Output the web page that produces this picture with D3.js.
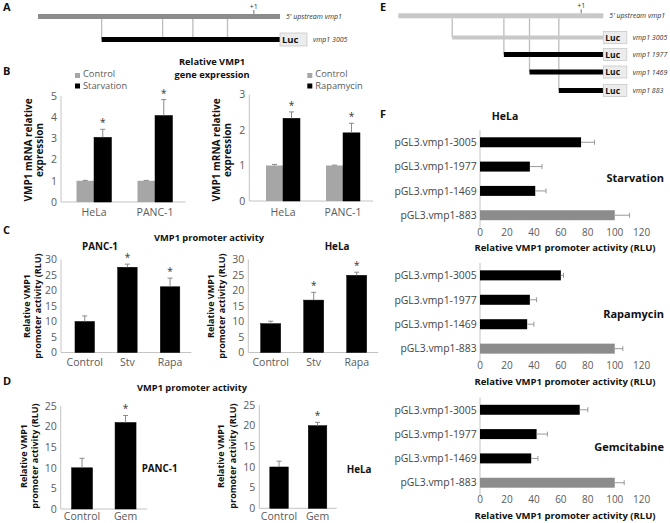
<!DOCTYPE html>
<html><head><meta charset="utf-8">
<script src="https://cdn.jsdelivr.net/npm/d3@7/dist/d3.min.js"></script>
<style>
body{margin:0;background:#fff}
svg{display:block}
text{font-family:"Open Sans",Lato,sans-serif}
</style>
</head><body>
<svg id="c" width="670" height="523"></svg>
<script>
// ---------- DATA ----------
// promoter diagram (schematic positions along the 5' upstream region, 0-100)
const constructNames = ["vmp1 3005", "vmp1 1977", "vmp1 1469", "vmp1 883"];
const constructStarts = [26.3, 51.5, 64.0, 78.3];
const tssPosition = 89.2;

// B: relative VMP1 mRNA expression
const bGroups = ["HeLa", "PANC-1"];
const bStarvControl = [1.0, 1.0];
const bStarvControlErr = [0.02, 0.02];
const bStarvation = [3.05, 4.08];
const bStarvationErr = [0.38, 0.75];
const bRapaControl = [1.0, 1.0];
const bRapaControlErr = [0.03, 0.01];
const bRapamycin = [2.33, 1.92];
const bRapamycinErr = [0.18, 0.27];
const bLeftTicks = [0, 1, 2, 3, 4, 5];
const bRightTicks = [0, 1, 2, 3];

// C: VMP1 promoter activity (RLU)
const cCategories = ["Control", "Stv", "Rapa"];
const cPanc = [10.0, 27.5, 21.2];
const cPancErr = [1.8, 1.0, 2.8];
const cPancSig = [false, true, true];
const cHela = [9.3, 16.9, 24.9];
const cHelaErr = [0.8, 2.5, 1.0];
const cHelaSig = [false, true, true];
const cTicks = [0, 5, 10, 15, 20, 25, 30];

// D: VMP1 promoter activity, gemcitabine
const dCategories = ["Control", "Gem"];
const dPanc = [10.0, 21.0];
const dPancErr = [2.3, 1.7];
const dHela = [10.0, 20.0];
const dHelaErr = [1.4, 0.8];
const dSig = [false, true];
const dTicks = [0, 5, 10, 15, 20, 25];

// F: deletion constructs, HeLa
const fConstructs = ["pGL3.vmp1-3005", "pGL3.vmp1-1977", "pGL3.vmp1-1469", "pGL3.vmp1-883"];
const fStarvation = [75, 37, 41, 100];
const fStarvationErr = [10, 9, 8, 11];
const fRapamycin = [60, 37, 35, 100];
const fRapamycinErr = [2, 5, 5, 6];
const fGemcitabine = [74, 42, 38, 100];
const fGemcitabineErr = [6, 8, 5, 7];
const fTicks = [0, 20, 40, 60, 80, 100, 120];

// ---------- STYLE ----------
const GRAY_B = "#a6a6a6", GRAY_F = "#8c8c8c", AXIS = "#c4c4c4", TICK = "#5a5a5a", ERR = "#8a8a8a";
const svg = d3.select("#c");

function txt(x, y, s, o = {}) {
  const t = svg.append("text").attr("x", x).attr("y", y).text(s)
    .attr("font-size", o.size || 10)
    .attr("fill", o.fill || "#111")
    .attr("font-weight", o.bold ? "bold" : "normal")
    .attr("text-anchor", o.anchor || "start");
  if (o.italic) t.attr("font-style", "italic");
  return t;
}
function vtxt(cx, cy, s, size) {
  svg.append("text").attr("transform", `translate(${cx},${cy}) rotate(-90)`)
    .attr("dy", "0.35em").attr("text-anchor", "middle")
    .attr("font-size", size).attr("font-weight", "bold").attr("fill", "#111").text(s);
}

// ---------- PANEL LETTERS ----------
[["A", 3, 11], ["B", 3, 75], ["C", 3, 234], ["D", 3, 385], ["E", 380, 11], ["F", 380, 118]]
  .forEach(([l, x, y]) => txt(x, y, l, {size: 11, bold: true}));

// ---------- DIAGRAMS (A, E) ----------
function diagram(o) {
  const x = d3.scaleLinear().domain([0, 100]).range(o.xr);
  const g = svg.append("g");
  g.append("rect").attr("x", x(0)).attr("y", o.topY).attr("width", x(100) - x(0)).attr("height", 5).attr("fill", o.topColor);
  g.append("line").attr("x1", x(tssPosition)).attr("x2", x(tssPosition)).attr("y1", o.topY - 4).attr("y2", o.topY).attr("stroke", "#777");
  txt(x(tssPosition), o.topY - 5, "+1", {size: 7, anchor: "middle", fill: "#333"});
  txt(x(100) + 6, o.topY + 4.5, "5' upstream vmp1", {size: 7, italic: true, fill: "#333"});
  o.rows.forEach((ri, k) => {
    const cy = o.rowY[k];
    g.append("line").attr("x1", x(constructStarts[ri])).attr("x2", x(constructStarts[ri]))
      .attr("y1", o.topY + 5).attr("y2", cy).attr("stroke", "#bdbdbd").attr("stroke-width", 1.3);
  });
  o.extraLines.forEach(ri => {
    g.append("line").attr("x1", x(constructStarts[ri])).attr("x2", x(constructStarts[ri]))
      .attr("y1", o.topY + 5).attr("y2", o.rowY[0] - 2.5).attr("stroke", "#bdbdbd").attr("stroke-width", 1.3);
  });
  o.rows.forEach((ri, k) => {
    const cy = o.rowY[k];
    const col = o.rowColors[k];
    const th = col === "#000" ? 5 : 4;
    g.append("rect").attr("x", x(constructStarts[ri])).attr("y", cy - th / 2).attr("width", x(100) - x(constructStarts[ri])).attr("height", th).attr("fill", col);
    g.append("rect").attr("x", x(100)).attr("y", cy - o.lucH / 2).attr("width", o.lucW).attr("height", o.lucH)
      .attr("fill", "#ececec").attr("stroke", "#c9c9c9").attr("stroke-width", 0.8);
    txt(x(100) + 2, cy + o.lucSize * 0.36, "Luc", {size: o.lucSize, bold: true, fill: "#111"});
    txt(x(100) + o.lucW + 6, cy + 2.5, constructNames[ri], {size: 7, italic: true, fill: "#333"});
  });
}
diagram({xr: [38, 280], topY: 14, topColor: "#8c8c8c", rows: [0], rowY: [39.5], rowColors: ["#000"],
  extraLines: [1, 2, 3], lucW: 27, lucH: 13, lucSize: 9.5});
diagram({xr: [398.3, 603.3], topY: 13.3, topColor: "#c8c8c8", rows: [0, 1, 2, 3], rowY: [37.5, 54.5, 72, 90.5],
  rowColors: ["#c8c8c8", "#000", "#000", "#000"], extraLines: [], lucW: 23.5, lucH: 12, lucSize: 8.5});

// ---------- VERTICAL BAR CHARTS ----------
function vBars(o) {
  const g = svg.append("g");
  const x = d3.scaleBand().domain(o.cats).range(o.xr);
  const y = d3.scaleLinear().domain([0, o.ymax]).range(o.yr);
  const inner = d3.scaleBand().domain(o.series.map(s => s.name)).range([0, o.barW * o.series.length]);
  g.append("line").attr("x1", o.axisX).attr("x2", o.axisX).attr("y1", y(0)).attr("y2", y(o.ymax)).attr("stroke", AXIS);
  g.append("line").attr("x1", o.axisX).attr("x2", o.xr[1]).attr("y1", y(0)).attr("y2", y(0)).attr("stroke", AXIS);
  o.ticks.forEach(t => g.append("text").attr("x", o.axisX - 4).attr("y", y(t)).attr("dy", "0.36em")
    .attr("text-anchor", "end").attr("font-size", 10.5).attr("fill", TICK).text(t));
  o.series.forEach(s => s.vals.forEach((v, i) => {
    const bx = x(o.cats[i]) + x.bandwidth() / 2 - inner.range()[1] / 2 + inner(s.name);
    const cx = bx + o.barW / 2;
    g.append("rect").attr("x", bx).attr("y", y(v)).attr("width", o.barW).attr("height", y(0) - y(v))
      .attr("fill", s.color).attr("stroke", s.color === "#000" ? "#000" : "none").attr("stroke-width", 0.5);
    const e = s.errs[i];
    g.append("line").attr("x1", cx).attr("x2", cx).attr("y1", y(v)).attr("y2", y(v + e)).attr("stroke", ERR).attr("stroke-width", 1);
    g.append("line").attr("x1", cx - 2.5).attr("x2", cx + 2.5).attr("y1", y(v + e)).attr("y2", y(v + e)).attr("stroke", ERR).attr("stroke-width", 1);
    if (s.sig && s.sig[i]) g.append("text").attr("x", cx).attr("y", y(v + e) - 3).attr("text-anchor", "middle")
      .attr("font-size", 10).attr("fill", "#333").text("*");
  }));
  o.cats.forEach(c => g.append("text").attr("x", x(c) + x.bandwidth() / 2).attr("y", o.labelY)
    .attr("text-anchor", "middle").attr("font-size", 10.5).attr("fill", TICK).text(c));
}

// B left
vBars({cats: bGroups, xr: [63.5, 185.5], yr: [202, 96], ymax: 5, axisX: 61, ticks: bLeftTicks, barW: 17.5, labelY: 216,
  series: [{name: "Control", vals: bStarvControl, errs: bStarvControlErr, color: GRAY_B},
           {name: "Starvation", vals: bStarvation, errs: bStarvationErr, color: "#000", sig: [true, true]}]});
// B right
vBars({cats: bGroups, xr: [253, 373], yr: [201, 94.5], ymax: 3, axisX: 249.3, ticks: bRightTicks, barW: 17, labelY: 216,
  series: [{name: "Control", vals: bRapaControl, errs: bRapaControlErr, color: GRAY_B},
           {name: "Rapamycin", vals: bRapamycin, errs: bRapamycinErr, color: "#000", sig: [true, true]}]});
txt(212, 65, "Relative VMP1", {size: 9.3, bold: true, anchor: "middle"});
txt(212, 78, "gene expression", {size: 9.3, bold: true, anchor: "middle"});
[[75, "Control", "Starvation"], [307.3, "Control", "Rapamycin"]].forEach(([lx, a, b]) => {
  svg.append("rect").attr("x", lx).attr("y", 73).attr("width", 5).attr("height", 5).attr("fill", GRAY_B);
  txt(lx + 8, 77, a, {size: 9.3, fill: TICK});
  svg.append("rect").attr("x", lx).attr("y", 83.5).attr("width", 5).attr("height", 5).attr("fill", "#000");
  txt(lx + 8, 88.5, b, {size: 9.3, fill: TICK});
});
vtxt(28, 150, "VMP1 mRNA relative", 10); vtxt(39.5, 150, "expression", 10);
vtxt(216, 150, "VMP1 mRNA relative", 10); vtxt(227.5, 150, "expression", 10);

// C
vBars({cats: cCategories, xr: [63.4, 191.4], yr: [352.5, 259.5], ymax: 30, axisX: 61, ticks: cTicks, barW: 19.5, labelY: 366,
  series: [{name: "v", vals: cPanc, errs: cPancErr, color: "#000", sig: cPancSig}]});
vBars({cats: cCategories, xr: [249.2, 378.2], yr: [352.5, 259.5], ymax: 30, axisX: 248.3, ticks: cTicks, barW: 20, labelY: 366,
  series: [{name: "v", vals: cHela, errs: cHelaErr, color: "#000", sig: cHelaSig}]});
txt(209, 241, "VMP1 promoter activity", {size: 9.3, bold: true, anchor: "middle"});
txt(100, 250, "PANC-1", {size: 9.8, bold: true, anchor: "middle"});
txt(337, 250, "HeLa", {size: 9.8, bold: true, anchor: "middle"});
vtxt(26.5, 306, "Relative VMP1", 9); vtxt(37.5, 306, "promoter activity (RLU)", 9);
vtxt(210.5, 306, "Relative VMP1", 9); vtxt(221.5, 306, "promoter activity (RLU)", 9);

// D
vBars({cats: dCategories, xr: [60.3, 147.3], yr: [509, 406], ymax: 25, axisX: 60.7, ticks: dTicks, barW: 21, labelY: 520,
  series: [{name: "v", vals: dPanc, errs: dPancErr, color: "#000", sig: dSig}]});
vBars({cats: dCategories, xr: [259.8, 336.8], yr: [508.3, 405], ymax: 25, axisX: 259.3, ticks: dTicks, barW: 18.5, labelY: 520,
  series: [{name: "v", vals: dHela, errs: dHelaErr, color: "#000", sig: dSig}]});
txt(192, 391, "VMP1 promoter activity", {size: 9.3, bold: true, anchor: "middle"});
txt(141.7, 472, "PANC-1", {size: 9.8, bold: true});
txt(346.7, 473, "HeLa", {size: 9.8, bold: true});
vtxt(23.5, 456, "Relative VMP1", 9); vtxt(35, 456, "promoter activity (RLU)", 9);
vtxt(220.5, 456, "Relative VMP1", 9); vtxt(232.5, 456, "promoter activity (RLU)", 9);

// ---------- F: HORIZONTAL BAR CHARTS ----------
function hBars(o) {
  const g = svg.append("g");
  const x = d3.scaleLinear().domain([0, 120]).range([480, 641.7]);
  const y = d3.scaleBand().domain(fConstructs).range(o.yr).paddingInner(0.59).paddingOuter(0.3);
  g.append("line").attr("x1", x(0)).attr("x2", x(0)).attr("y1", o.yr[0]).attr("y2", o.yr[1]).attr("stroke", AXIS);
  fTicks.forEach(t => g.append("text").attr("x", x(t)).attr("y", o.yr[1] + 8).attr("text-anchor", "middle")
    .attr("font-size", 10).attr("fill", TICK).text(t));
  fConstructs.forEach((c, i) => {
    const v = o.vals[i], e = o.errs[i];
    const cy = y(c) + y.bandwidth() / 2;
    g.append("rect").attr("x", x(0)).attr("y", y(c)).attr("width", x(v) - x(0)).attr("height", y.bandwidth())
      .attr("fill", i === fConstructs.length - 1 ? GRAY_F : "#000");
    g.append("line").attr("x1", x(v)).attr("x2", x(v + e)).attr("y1", cy).attr("y2", cy).attr("stroke", "#999");
    g.append("line").attr("x1", x(v + e)).attr("x2", x(v + e)).attr("y1", cy - 2.5).attr("y2", cy + 2.5).attr("stroke", "#999");
    g.append("text").attr("x", 476.7).attr("y", cy).attr("dy", "0.36em").attr("text-anchor", "end")
      .attr("font-size", 10.4).attr("fill", "#444").text(c);
  });
  txt(565, o.yr[1] + 23.5, "Relative VMP1 promoter activity (RLU)", {size: 9.5, bold: true, anchor: "middle"});
  txt(664, o.sideY, o.side, {size: 11, bold: true, anchor: "end"});
}
hBars({vals: fStarvation, errs: fStarvationErr, yr: [130, 227.5], side: "Starvation", sideY: 182});
hBars({vals: fRapamycin, errs: fRapamycinErr, yr: [263, 361], side: "Rapamycin", sideY: 318});
hBars({vals: fGemcitabine, errs: fGemcitabineErr, yr: [397.5, 495], side: "Gemcitabine", sideY: 451});
txt(505, 120, "HeLa", {size: 10.5, bold: true, anchor: "middle"});
</script>
</body></html>
